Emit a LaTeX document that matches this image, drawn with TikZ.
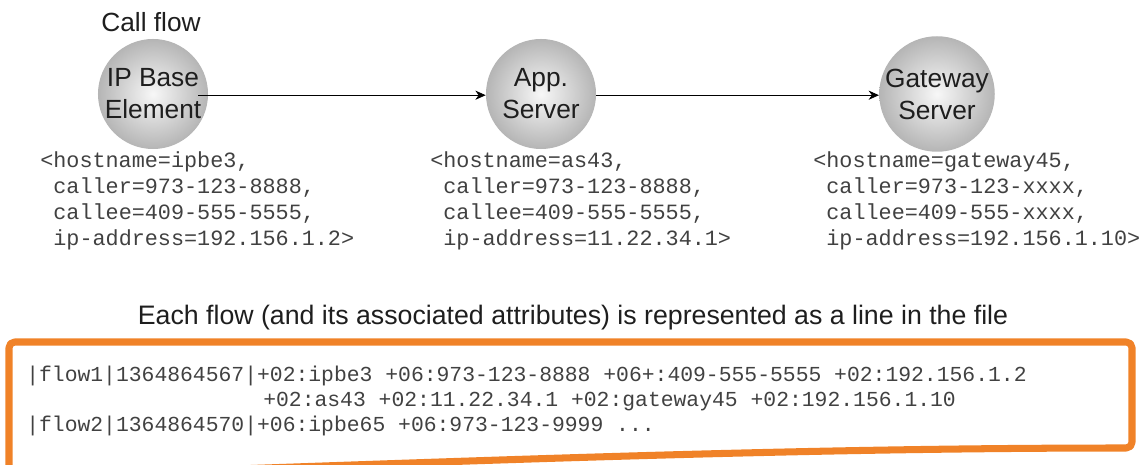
\documentclass[tikz,border=0pt]{standalone}
\usepackage{fontspec}
\setmainfont{Liberation Sans}
\setmonofont{Liberation Mono}
\usetikzlibrary{arrows.meta,positioning}
\definecolor{flowedge}{RGB}{240,130,40}
\definecolor{attrgray}{RGB}{65,65,65}
\definecolor{labeldark}{RGB}{30,30,30}

\begin{document}
\begin{tikzpicture}[x=0.025cm, y=-0.025cm, line join=round, >={Stealth[length=2.6mm,width=2.3mm]},
    element/.style={circle, minimum size=2.75cm, inner sep=0pt, align=center,
      shading=radial, inner color=gray!6, outer color=gray!58,
      text=labeldark, font=\fontsize{18.7}{22.8}\selectfont},
    attrs/.style={anchor=north west, inner sep=0pt, align=left, text=attrgray,
      font=\ttfamily\fontsize{15.5}{18.7}\selectfont},
    recline/.style={anchor=base west, inner sep=0pt, text=attrgray,
      font=\ttfamily\fontsize{15.2}{19}\selectfont}]
    \useasboundingbox (0,0) rectangle (1140,465);

    % call flow elements
    \node[text=labeldark, font=\fontsize{18.7}{22.8}\selectfont] (title) at (151,22) {Call flow};
    \node[element] (ipbe) at (153,94) {IP Base\\Element};
    \node[element] (app) at (541,94) {App.\\Server};
    \node[element] (gw) at (937,94) {Gateway\\Server};

    \draw[semithick,->] ([xshift=-0.25cm,yshift=-0.03cm]ipbe.east) -- ([yshift=-0.03cm]app.west);
    \draw[semithick,->] ([yshift=-0.03cm]app.east) -- ([yshift=-0.03cm]gw.west);

    % attributes of each element
    \node[attrs] (ipbeattr) at (40,151) {<hostname=ipbe3,\\\phantom{<}caller=973-123-8888,\\\phantom{<}callee=409-555-5555,\\\phantom{<}ip-address=192.156.1.2>};
    \node[attrs] (appattr) at (430,151) {<hostname=as43,\\\phantom{<}caller=973-123-8888,\\\phantom{<}callee=409-555-5555,\\\phantom{<}ip-address=11.22.34.1>};
    \node[attrs] (gwattr) at (813,151) {<hostname=gateway45,\\\phantom{<}caller=973-123-xxxx,\\\phantom{<}callee=409-555-xxxx,\\\phantom{<}ip-address=192.156.1.10>};

    % file with one line per flow
    \node[text=labeldark, font=\fontsize{19}{23}\selectfont] (filetitle) at (573,318) {Each flow (and its associated attributes) is represented as a line in the file};
    \draw[flowedge, line width=5pt, rounded corners=4pt] (9,480) -- (9,342) -- (1132,342) -- (1132,448)
      .. controls (800,448) and (500,460) .. (150,472);

    \node[recline] (flow1) at (26,382) {|flow1|1364864567|+02:ipbe3 +06:973-123-8888 +06+:409-555-5555 +02:192.156.1.2};
    \node[recline] (flow1b) at (263,407) {+02:as43 +02:11.22.34.1 +02:gateway45 +02:192.156.1.10};
    \node[recline] (flow2) at (26,432) {|flow2|1364864570|+06:ipbe65 +06:973-123-9999 ...};
\end{tikzpicture}
\end{document}
